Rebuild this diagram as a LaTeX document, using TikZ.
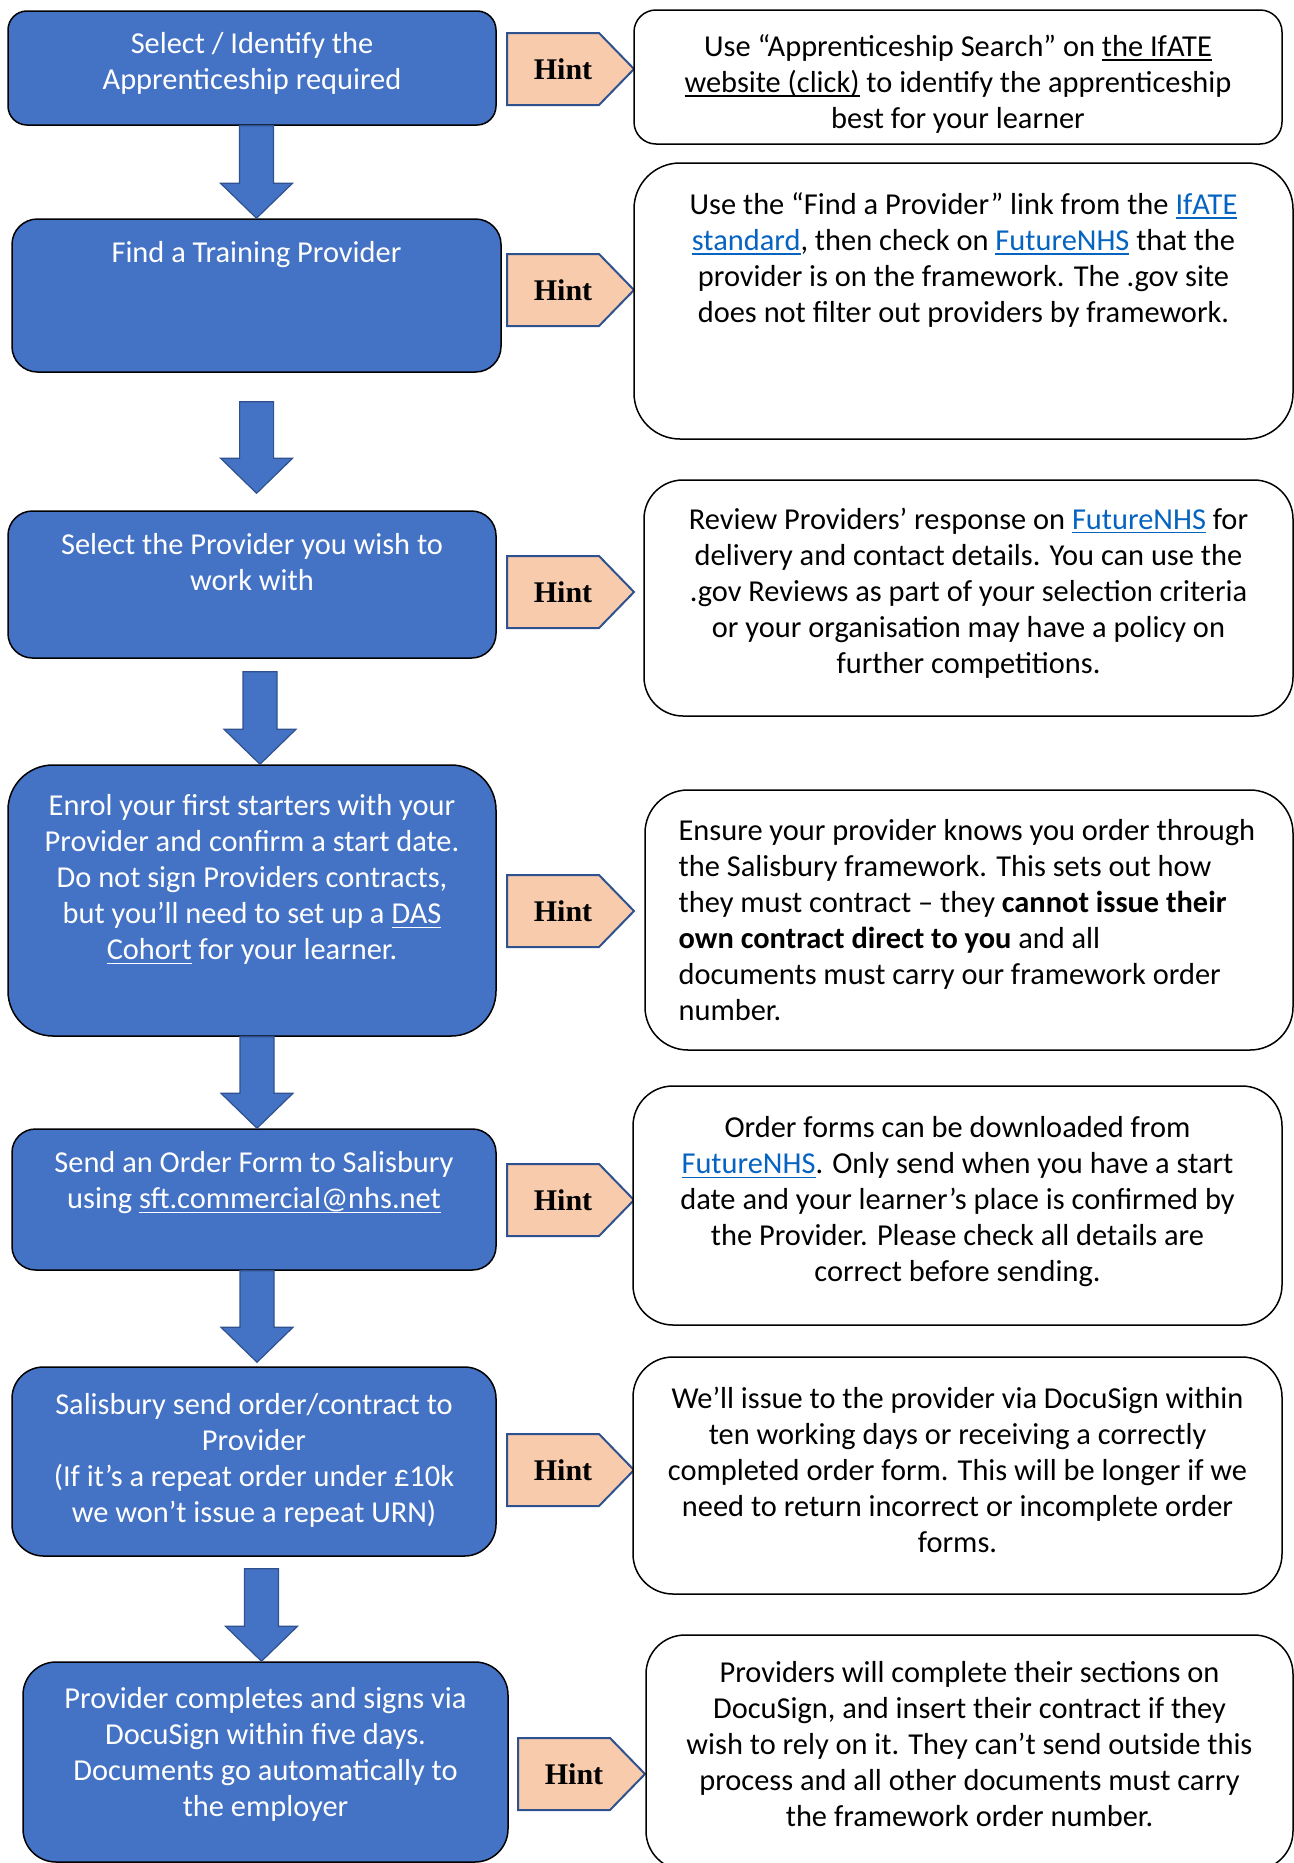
\documentclass[tikz,border=0pt]{standalone}
\usepackage{fontspec}
\setmainfont{Carlito}
\newfontfamily\hintfont{Liberation Serif}
\usetikzlibrary{positioning,calc}
\definecolor{stepblue}{RGB}{68,114,196}
\definecolor{edgeblue}{RGB}{47,82,143}
\definecolor{hintorange}{RGB}{248,203,173}
\definecolor{linkblue}{RGB}{5,99,193}
\newcommand{\plainlink}[1]{\setbox0\hbox{#1}\rlap{\rule[-2pt]{\wd0}{0.6pt}}\box0{}}
\newcommand{\weblink}[1]{\textcolor{linkblue}{\plainlink{#1}}}
\newcommand{\flowarrow}[2]{%
  \draw[arrowbox] let \p1=(#1), \p2=(#2) in
    (\x2-8.5pt,\y1) -- (\x2+8.5pt,\y1) -- (\x2+8.5pt,\y2+17.5pt) -- (\x2+18pt,\y2+17.5pt)
    -- (\x2,\y2) -- (\x2-18pt,\y2+17.5pt) -- (\x2-8.5pt,\y2+17.5pt) -- cycle;}
\tikzset{
  stepbox/.style={draw=black, line width=0.75pt, fill=stepblue, inner sep=0pt},
  notebox/.style={draw=black, line width=0.75pt, fill=white, inner sep=0pt},
  steptext/.style={text=white, align=center, inner sep=0pt, font=\fontsize{15.2}{18}\selectfont},
  notetext/.style={text=black, align=center, inner sep=0pt, font=\fontsize{15.2}{18}\selectfont},
  hintedge/.style={draw=edgeblue, line width=1pt, fill=hintorange},
  hintlabel/.style={inner sep=0pt, font=\hintfont\bfseries\fontsize{15}{15}\selectfont},
  arrowbox/.style={draw=edgeblue, line width=0.6pt, fill=stepblue}
}
\begin{document}
\begin{tikzpicture}[x=0.5pt,y=-0.5pt]
    \useasboundingbox (0,0) rectangle (1294,1863);
    \clip (0,0) rectangle (1294,1863);

    \node[stepbox, minimum width=244pt, minimum height=57pt, rounded corners=9.5pt] (select) at (252,68) {};
    \node[stepbox, minimum width=244.5pt, minimum height=76.5pt, rounded corners=12.75pt] (find) at (256.5,295.5) {};
    \node[stepbox, minimum width=244pt, minimum height=73.5pt, rounded corners=12.25pt] (choose) at (252,584.5) {};
    \node[stepbox, minimum width=244pt, minimum height=135.5pt, rounded corners=22.5pt] (enrol) at (252,900.5) {};
    \node[stepbox, minimum width=242pt, minimum height=70.5pt, rounded corners=11.75pt] (order) at (254,1199.5) {};
    \node[stepbox, minimum width=242pt, minimum height=94.5pt, rounded corners=15.75pt] (contract) at (254,1461.5) {};
    \node[stepbox, minimum width=242.5pt, minimum height=100pt, rounded corners=16.5pt] (sign) at (265.5,1762) {};

    \node[steptext, below=11pt of select.north] (selecttext) {Select / Identify the\\Apprenticeship required};
    \node[steptext, below=11.5pt of find.north] (findtext) {Find a Training Provider};
    \node[steptext, below=11.5pt of choose.north] (choosetext) {Select the Provider you wish to\\work with};
    \node[steptext, below=15pt of enrol.north] (enroltext) {Enrol your first starters with your\\Provider and confirm a start date.\\Do not sign Providers contracts,\\but you’ll need to set up a \plainlink{DAS}\\\plainlink{Cohort} for your learner.};
    \node[steptext, below=11.5pt of order.north] (ordertext) {Send an Order Form to Salisbury\\using \plainlink{sft.commercial@nhs.net}};
    \node[steptext, below=13.5pt of contract.north] (contracttext) {Salisbury send order/contract to\\Provider\\(If it’s a repeat order under £10k\\we won’t issue a repeat URN)};
    \node[steptext, below=13pt of sign.north] (signtext) {Provider completes and signs via\\DocuSign within five days.\\Documents go automatically to\\the employer};

    \flowarrow{select.south}{find.north}
    \flowarrow{[yshift=-14.5pt]find.south}{[xshift=2.3pt,yshift=8.5pt]choose.north}
    \flowarrow{[yshift=-6.5pt]choose.south}{[xshift=4pt]enrol.north}
    \flowarrow{enrol.south}{[xshift=1.5pt]order.north}
    \flowarrow{order.south}{[xshift=1.5pt,yshift=2pt]contract.north}
    \flowarrow{[yshift=-6pt]contract.south}{[xshift=-2pt]sign.north}

    \draw[hintedge] (507,33) -- (599,33) -- (634,69) -- (599,105) -- (507,105) -- cycle;
    \node[hintlabel] (hint1) at (563,69) {Hint};
    \draw[hintedge] (507,254) -- (599,254) -- (634,290) -- (599,326) -- (507,326) -- cycle;
    \node[hintlabel] (hint2) at (563,290) {Hint};
    \draw[hintedge] (507,556) -- (599,556) -- (634,592) -- (599,628) -- (507,628) -- cycle;
    \node[hintlabel] (hint3) at (563,592) {Hint};
    \draw[hintedge] (507,875) -- (599,875) -- (634,911) -- (599,947) -- (507,947) -- cycle;
    \node[hintlabel] (hint4) at (563,911) {Hint};
    \draw[hintedge] (507,1164) -- (599,1164) -- (634,1200) -- (599,1236) -- (507,1236) -- cycle;
    \node[hintlabel] (hint5) at (563,1200) {Hint};
    \draw[hintedge] (507,1434) -- (599,1434) -- (634,1470) -- (599,1506) -- (507,1506) -- cycle;
    \node[hintlabel] (hint6) at (563,1470) {Hint};
    \draw[hintedge] (518,1738) -- (610,1738) -- (645,1774) -- (610,1810) -- (518,1810) -- cycle;
    \node[hintlabel] (hint7) at (574,1774) {Hint};

    \node[notebox, minimum width=324pt, minimum height=67pt, rounded corners=11pt] (searchnote) at (958,77) {};
    \node[notebox, minimum width=329.5pt, minimum height=138pt, rounded corners=23pt] (providernote) at (963.5,301) {};
    \node[notebox, minimum width=324.5pt, minimum height=118pt, rounded corners=19.5pt] (reviewnote) at (968.5,598) {};
    \node[notebox, minimum width=324pt, minimum height=130pt, rounded corners=21.5pt] (frameworknote) at (969,920) {};
    \node[notebox, minimum width=324.5pt, minimum height=119.5pt, rounded corners=20pt] (formnote) at (957.5,1205.5) {};
    \node[notebox, minimum width=324.5pt, minimum height=118.5pt, rounded corners=20pt] (issuenote) at (957.5,1475.5) {};
    \node[notebox, minimum width=323.5pt, minimum height=117.5pt, rounded corners=19.5pt] (docusignnote) at (969.5,1752.5) {};

    \node[notetext, below=12.5pt of searchnote.north] (searchtext) {Use “Apprenticeship Search” on \plainlink{the IfATE}\\\plainlink{website (click)} to identify the apprenticeship\\best for your learner};
    \node[notetext, below=15pt of providernote.north] (providertext) {Use the “Find a Provider” link from the \weblink{IfATE}\\\weblink{standard}, then check on \weblink{FutureNHS} that the\\provider is on the framework. The .gov site\\does not filter out providers by framework.};
    \node[notetext, below=14pt of reviewnote.north] (reviewtext) {Review Providers’ response on \weblink{FutureNHS} for\\delivery and contact details. You can use the\\.gov Reviews as part of your selection criteria\\or your organisation may have a policy on\\further competitions.};
    \node[notetext, align=left, anchor=north west] (frameworktext) at ([xshift=17pt,yshift=-15pt]frameworknote.north west) {Ensure your provider knows you order through\\the Salisbury framework. This sets out how\\they must contract – they \textbf{cannot issue their}\\\textbf{own contract direct to you} and all\\documents must carry our framework order\\number.};
    \node[notetext, below=15.5pt of formnote.north] (formtext) {Order forms can be downloaded from\\\weblink{FutureNHS}. Only send when you have a start\\date and your learner’s place is confirmed by\\the Provider. Please check all details are\\correct before sending.};
    \node[notetext, below=15pt of issuenote.north] (issuetext) {We’ll issue to the provider via DocuSign within\\ten working days or receiving a correctly\\completed order form. This will be longer if we\\need to return incorrect or incomplete order\\forms.};
    \node[notetext, below=13.5pt of docusignnote.north] (docusigntext) {Providers will complete their sections on\\DocuSign, and insert their contract if they\\wish to rely on it. They can’t send outside this\\process and all other documents must carry\\the framework order number.};
\end{tikzpicture}
\end{document}
